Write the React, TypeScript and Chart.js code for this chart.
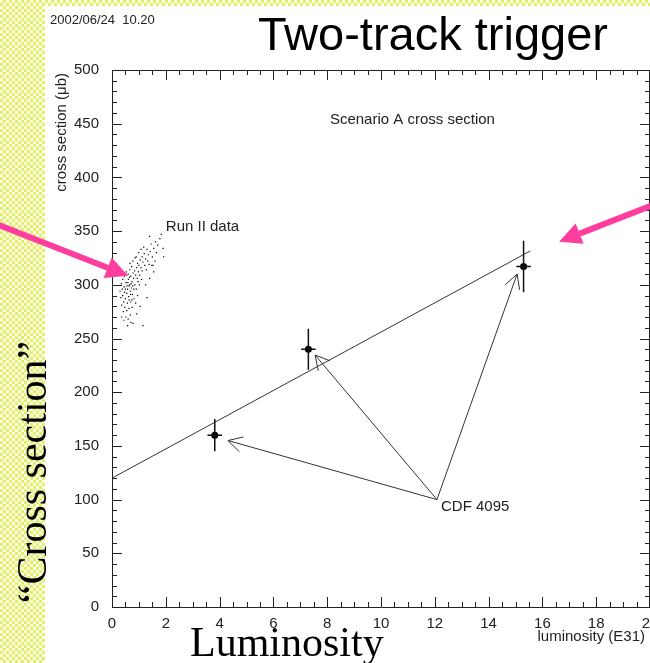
import { useEffect, useRef } from "react";
import { Chart, registerables } from "chart.js";

Chart.register(...registerables);

// Run II trigger data: luminosity (E31) vs cross section (µb)
const runLum = [
  0.45, 0.52, 0.58, 0.61, 0.66, 0.7, 0.74, 0.78, 0.55, 0.62, 0.68, 0.72, 0.8, 0.84, 0.88, 0.92,
  0.5, 0.57, 0.64, 0.47, 0.4, 0.43, 0.38, 0.35, 0.6, 0.66, 0.73, 0.95, 1.0, 1.05, 0.98, 1.08,
  1.12, 1.15, 1.2, 1.25, 1.3, 1.18, 1.35, 1.42, 1.45, 1.5, 1.55, 1.62, 1.7, 1.78, 1.83, 1.9,
  1.92, 1.6, 1.48, 1.38, 1.28, 0.85, 0.9, 0.76, 0.82, 0.7, 0.63, 0.55, 0.48, 0.42, 0.36, 0.33,
  0.52, 0.6, 0.44, 0.68, 0.75, 0.88, 0.95, 1.02, 1.1, 0.97, 1.25, 1.4, 1.05, 0.92, 1.3, 0.58,
  0.78, 1.15, 0.36, 0.3, 0.4, 0.46, 0.53, 0.67, 0.78, 0.86, 0.63, 0.69, 0.56, 0.74, 0.81, 0.94,
  1.03, 1.12, 1.22, 1.33, 0.5, 0.59, 0.65, 0.71, 0.77, 1.4, 1.52, 1.65, 0.99, 0.9, 1.08, 1.55,
  0.7,
];
const runXsec = [
  298, 302, 296, 305, 300, 308, 303, 311, 292, 289, 294, 297, 306, 313, 309, 316,
  287, 283, 286, 293, 290, 284, 296, 301, 310, 314, 317, 320, 318, 323, 312, 316,
  326, 321, 329, 324, 333, 335, 328, 331, 338, 326, 334, 340, 337, 343, 347, 334,
  326, 322, 318, 319, 314, 300, 296, 291, 287, 284, 278, 276, 279, 275, 281, 288,
  270, 268, 267, 272, 279, 283, 290, 300, 305, 303, 300, 306, 280, 273, 288, 262,
  264, 262, 270, 294, 305, 308, 312, 320, 322, 325, 299, 291, 299, 286, 296, 306,
  309, 313, 318, 322, 296, 302, 307, 301, 299, 345, 318, 330, 330, 326, 333, 312,
  265,
];

// CDF 4095 measurements with errors
const cdfLum = [3.82, 7.3, 15.3];
const cdfXsec = [160, 240, 317];
const cdfErrLum = [0.27, 0.27, 0.27];
const cdfErrXsec = [15, 19, 24];

// Scenario A straight-line prediction
const fitLum = [0, 15.55];
const fitXsec = [120, 331.5];

// "CDF 4095" label anchor and the tips of its arrows
const cdfLabelLum = 12.08;
const cdfLabelXsec = 100;
const cdfArrowLum = [4.31, 7.55, 15.06];
const cdfArrowXsec = [155, 234.6, 310];

// Highlight arrows (tail -> tip)
const pinkTailLum = [-5, 21.1];
const pinkTailXsec = [363.5, 384];
const pinkTipLum = [0.6, 16.62];
const pinkTipXsec = [308.4, 340.2];

const xMin = 0, xMax = 20, xStep = 2, xMinor = 0.5;
const yMin = 0, yMax = 500, yStep = 50, yMinor = 10;

const SANS = "'Liberation Sans', Arial, Helvetica, sans-serif";
const SERIF = "'Liberation Serif', 'Times New Roman', Times, serif";
const INK = "#222";
const PINK = "#ff3d9e";

const decorations = {
  id: "decorations",
  afterDatasetsDraw(chart: any) {
    const { ctx, scales } = chart;
    const xs = scales.x, ys = scales.y;
    ctx.save();
    ctx.strokeStyle = "#111";
    ctx.lineWidth = 1.5;
    for (let i = 0; i < cdfLum.length; i++) {
      const cx = xs.getPixelForValue(cdfLum[i]);
      const cy = ys.getPixelForValue(cdfXsec[i]);
      const y1 = ys.getPixelForValue(cdfXsec[i] + cdfErrXsec[i]);
      const y2 = ys.getPixelForValue(cdfXsec[i] - cdfErrXsec[i]);
      const x1 = xs.getPixelForValue(cdfLum[i] - cdfErrLum[i]);
      const x2 = xs.getPixelForValue(cdfLum[i] + cdfErrLum[i]);
      ctx.beginPath();
      ctx.moveTo(cx, y1);
      ctx.lineTo(cx, y2);
      ctx.moveTo(x1, cy);
      ctx.lineTo(x2, cy);
      ctx.stroke();
    }
    ctx.restore();
  },
  afterDraw(chart: any) {
    const { ctx, scales, chartArea } = chart;
    const xs = scales.x, ys = scales.y;
    const { left, right, top, bottom } = chartArea;
    ctx.save();

    // frame and inward ticks
    ctx.strokeStyle = INK;
    ctx.lineWidth = 1;
    ctx.beginPath();
    ctx.moveTo(left, top + 0.5);
    ctx.lineTo(right, top + 0.5);
    ctx.moveTo(right - 0.5, top);
    ctx.lineTo(right - 0.5, bottom);
    for (let v = xMin; v <= xMax + 1e-9; v += xMinor) {
      const px = Math.round(xs.getPixelForValue(v)) + 0.5;
      const len = Math.abs(v / xStep - Math.round(v / xStep)) < 1e-6 ? 10 : 5;
      ctx.moveTo(px, bottom);
      ctx.lineTo(px, bottom - len);
      ctx.moveTo(px, top);
      ctx.lineTo(px, top + len);
    }
    for (let v = yMin; v <= yMax + 1e-9; v += yMinor) {
      const py = Math.round(ys.getPixelForValue(v)) + 0.5;
      const len = Math.abs(v / yStep - Math.round(v / yStep)) < 1e-6 ? 10 : 5;
      ctx.moveTo(left, py);
      ctx.lineTo(left + len, py);
      ctx.moveTo(right, py);
      ctx.lineTo(right - len, py);
    }
    ctx.stroke();

    // arrows from the CDF 4095 label to each measurement
    const ox = xs.getPixelForValue(cdfLabelLum);
    const oy = ys.getPixelForValue(cdfLabelXsec);
    ctx.strokeStyle = "#333";
    ctx.lineWidth = 1;
    for (let i = 0; i < cdfArrowLum.length; i++) {
      const tx = xs.getPixelForValue(cdfArrowLum[i]);
      const ty = ys.getPixelForValue(cdfArrowXsec[i]);
      const ang = Math.atan2(oy - ty, ox - tx);
      const head = 16, spread = 0.5;
      ctx.beginPath();
      ctx.moveTo(ox, oy);
      ctx.lineTo(tx, ty);
      ctx.moveTo(tx + head * Math.cos(ang - spread), ty + head * Math.sin(ang - spread));
      ctx.lineTo(tx, ty);
      ctx.lineTo(tx + head * Math.cos(ang + spread), ty + head * Math.sin(ang + spread));
      ctx.stroke();
    }

    // text inside the plot
    ctx.fillStyle = INK;
    ctx.font = `15px ${SANS}`;
    ctx.textBaseline = "middle";
    ctx.textAlign = "left";
    ctx.fillText("Scenario A cross section", xs.getPixelForValue(8.1), ys.getPixelForValue(454));
    ctx.fillText("Run II data", xs.getPixelForValue(2.0), ys.getPixelForValue(354));
    ctx.fillText("CDF 4095", xs.getPixelForValue(12.23), ys.getPixelForValue(93.5));

    // axis titles
    ctx.textAlign = "right";
    ctx.fillText("luminosity (E31)", right - 5, bottom + 30);
    ctx.save();
    ctx.translate(left - 50, top + 3);
    ctx.rotate(-Math.PI / 2);
    ctx.textAlign = "right";
    ctx.fillText("cross section (\u03bcb)", 0, 0);
    ctx.restore();

    // header
    ctx.textAlign = "left";
    ctx.font = `13px ${SANS}`;
    ctx.fillText("2002/06/24  10.20", 50, 20);
    ctx.fillStyle = "#000";
    ctx.textBaseline = "alphabetic";
    ctx.font = `47px ${SANS}`;
    ctx.fillText("Two-track trigger", 258, 50);

    // large serif captions
    ctx.font = `42px ${SERIF}`;
    ctx.fillText("Luminosity", 190, 656);
    ctx.save();
    ctx.translate(46, 472);
    ctx.rotate(-Math.PI / 2);
    ctx.textAlign = "center";
    ctx.fillText("\u201cCross section\u201d", 0, 0);
    ctx.restore();

    // highlight arrows
    ctx.fillStyle = PINK;
    ctx.strokeStyle = PINK;
    for (let i = 0; i < pinkTipLum.length; i++) {
      const sx = xs.getPixelForValue(pinkTailLum[i]);
      const sy = ys.getPixelForValue(pinkTailXsec[i]);
      const tx = xs.getPixelForValue(pinkTipLum[i]);
      const ty = ys.getPixelForValue(pinkTipXsec[i]);
      const ang = Math.atan2(ty - sy, tx - sx);
      const hl = 22, hw = 11;
      const bx = tx - hl * Math.cos(ang);
      const by = ty - hl * Math.sin(ang);
      ctx.lineWidth = 6;
      ctx.beginPath();
      ctx.moveTo(sx, sy);
      ctx.lineTo(bx, by);
      ctx.stroke();
      ctx.beginPath();
      ctx.moveTo(tx, ty);
      ctx.lineTo(bx + hw * Math.sin(ang), by - hw * Math.cos(ang));
      ctx.lineTo(bx - hw * Math.sin(ang), by + hw * Math.cos(ang));
      ctx.closePath();
      ctx.fill();
    }
    ctx.restore();
  },
};

export default function App() {
  const canvasRef = useRef<HTMLCanvasElement | null>(null);

  useEffect(() => {
    const canvas = canvasRef.current;
    if (!canvas) return;
    const chart = new Chart(canvas, {
      type: "scatter",
      data: {
        datasets: [
          {
            label: "Run II data",
            data: runLum.map((x, i) => ({ x, y: runXsec[i] })),
            pointStyle: "rect",
            pointRadius: 0.85,
            pointBorderWidth: 0,
            backgroundColor: "#000",
          },
          {
            type: "line",
            label: "Scenario A",
            data: fitLum.map((x, i) => ({ x, y: fitXsec[i] })),
            borderColor: "#333",
            borderWidth: 1,
            pointRadius: 0,
            fill: false,
          },
          {
            label: "CDF 4095",
            data: cdfLum.map((x, i) => ({ x, y: cdfXsec[i] })),
            pointRadius: 3.5,
            pointBorderWidth: 0,
            backgroundColor: "#000",
          },
        ],
      } as any,
      options: {
        animation: false,
        responsive: false,
        devicePixelRatio: 1,
        layout: { padding: { top: 70, left: 0, right: 10, bottom: 0 } },
        plugins: { legend: { display: false }, tooltip: { enabled: false } },
        scales: {
          x: {
            type: "linear",
            min: xMin,
            max: xMax,
            grid: { display: false, drawTicks: false },
            border: { display: true, color: INK, width: 1 },
            ticks: {
              stepSize: xStep,
              autoSkip: false,
              maxRotation: 0,
              padding: 8,
              color: INK,
              font: { family: SANS, size: 15 },
            },
            afterFit: (s: any) => {
              s.height = 56;
              s.paddingLeft = 0;
              s.paddingRight = 0;
            },
          },
          y: {
            type: "linear",
            min: yMin,
            max: yMax,
            grid: { display: false, drawTicks: false },
            border: { display: true, color: INK, width: 1 },
            ticks: {
              stepSize: yStep,
              padding: 13,
              color: INK,
              font: { family: SANS, size: 15 },
            },
            afterFit: (s: any) => {
              s.width = 112;
              s.paddingTop = 0;
              s.paddingBottom = 0;
            },
          },
        },
      } as any,
      plugins: [decorations],
    });
    return () => chart.destroy();
  }, []);

  return (
    <div
      style={{
        position: "fixed",
        left: 0,
        top: 0,
        width: 650,
        height: 663,
        overflow: "hidden",
        backgroundColor: "#fbfde4",
        backgroundImage:
          "conic-gradient(#e3ee6c 25%, transparent 0 50%, #e3ee6c 0 75%, transparent 0)",
        backgroundSize: "6px 6px",
      }}
    >
      <div
        style={{ position: "absolute", left: 45, top: 6, right: 0, bottom: 0, background: "#fff" }}
      />
      <canvas
        ref={canvasRef}
        width={660}
        height={663}
        style={{ position: "absolute", left: 0, top: 0, width: 660, height: 663 }}
      />
    </div>
  );
}
